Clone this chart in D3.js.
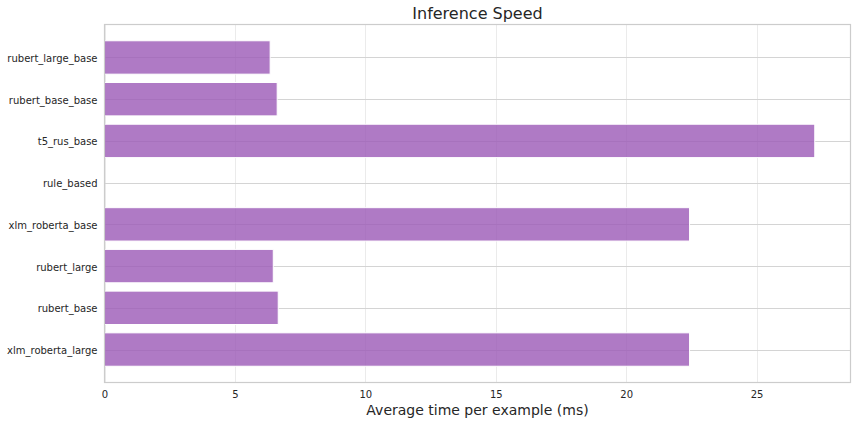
<!DOCTYPE html>
<html><head><meta charset="utf-8">
<script src="https://cdn.jsdelivr.net/npm/d3@7"></script>
<style>body{margin:0;background:#fff;} text{font-family:"DejaVu Sans",sans-serif;}</style>
</head><body>
<svg id="c" width="856" height="424"></svg>
<script>
const categories = ["rubert_large_base","rubert_base_base","t5_rus_base","rule_based","xlm_roberta_base","rubert_large","rubert_base","xlm_roberta_large"];
const values = [6.35, 6.62, 27.23, 0, 22.43, 6.47, 6.66, 22.43];
const xTicks = [0, 5, 10, 15, 20, 25];
const title = "Inference Speed";
const xLabel = "Average time per example (ms)";

const svg = d3.select("#c");
const L = 104.5, R = 850.5, T = 24.5, B = 382.5;
const x = d3.scaleLinear().domain([0, 28.6]).range([L, R]);
const y = d3.scaleBand().domain(categories).range([T, B]).paddingInner(0.2).paddingOuter(0.39);

// vertical grid
svg.append("g").selectAll("line").data(xTicks).join("line")
  .attr("x1", d => Math.round(x(d)) + 0.5).attr("x2", d => Math.round(x(d)) + 0.5)
  .attr("y1", T).attr("y2", B).attr("stroke", "#ebebeb").attr("stroke-width", 1);
// horizontal grid
svg.append("g").selectAll("line").data(categories).join("line")
  .attr("x1", L).attr("x2", R)
  .attr("y1", d => Math.round(y(d) + y.bandwidth()/2) + 0.5)
  .attr("y2", d => Math.round(y(d) + y.bandwidth()/2) + 0.5)
  .attr("stroke", "#d4d4d4").attr("stroke-width", 1);

// bars
svg.append("g").selectAll("rect").data(categories).join("rect")
  .attr("x", x(0)).attr("y", d => y(d))
  .attr("width", (d, i) => x(values[i]) - x(0))
  .attr("height", y.bandwidth())
  .attr("fill", "#9b59b6").attr("fill-opacity", 0.8)
  .attr("stroke", "#ffffff").attr("stroke-width", 1);

// frame
svg.append("rect").attr("x", L).attr("y", T).attr("width", R - L).attr("height", B - T)
  .attr("fill", "none").attr("stroke", "#cccccc").attr("stroke-width", 1.2);

// axes
const xAxis = d3.axisBottom(x).tickValues(xTicks).tickSize(0).tickPadding(8);
const gx = svg.append("g").attr("transform", `translate(0,${B})`).call(xAxis);
gx.select(".domain").remove();
gx.selectAll("text").attr("font-size", 10).attr("fill", "#262626").attr("font-family", "DejaVu Sans");

const yAxis = d3.axisLeft(y).tickSize(0).tickPadding(7);
const gy = svg.append("g").attr("transform", `translate(${L},0)`).call(yAxis);
gy.select(".domain").remove();
gy.selectAll("text").attr("font-size", 10).attr("fill", "#262626").attr("font-family", "DejaVu Sans")
  .attr("dy", "0.45em");

svg.append("text").attr("x", (L + R) / 2).attr("y", 19).attr("text-anchor", "middle")
  .attr("font-size", 16).attr("fill", "#262626").text(title);
svg.append("text").attr("x", (L + R) / 2).attr("y", 415).attr("text-anchor", "middle")
  .attr("font-size", 14).attr("fill", "#262626").text(xLabel);
</script>
</body></html>
